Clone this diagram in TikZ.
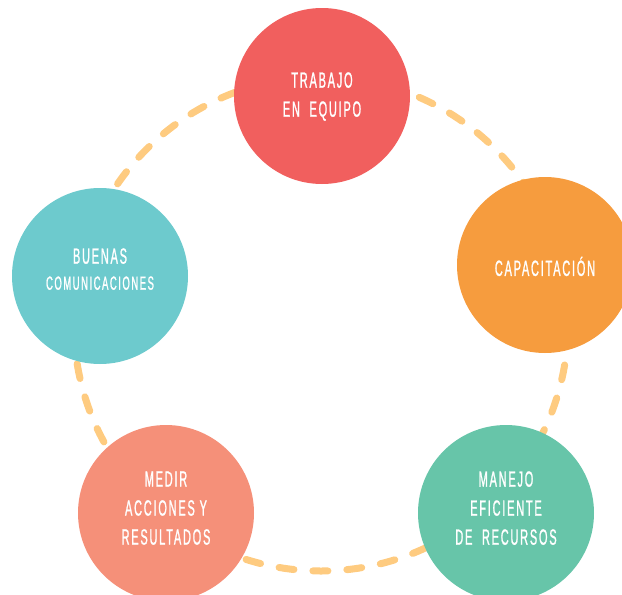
\documentclass[tikz,border=0pt]{standalone}
\usepackage{fontspec}
\setmainfont{Liberation Sans}[FakeStretch=0.5,LetterSpace=8,FakeBold=1]
\definecolor{ringc}{HTML}{FECB80}
\definecolor{redc}{HTML}{F15F5E}
\definecolor{orangec}{HTML}{F69C3E}
\definecolor{greenc}{HTML}{67C5A9}
\definecolor{salmonc}{HTML}{F59079}
\definecolor{tealc}{HTML}{6DCACD}
\begin{document}
\begin{tikzpicture}[
    x=1pt,
    y=-1pt,
    bubble/.style={circle, minimum size=176pt, inner sep=0pt, text=white,
      align=center, font=\fontsize{22}{29}\selectfont},
    lift/.style={text depth=#1},
    ring/.style={draw=ringc, line width=7pt, line cap=round,
      dash pattern=on 15pt off 19pt}
]
\useasboundingbox (0,0) rectangle (622,595);
\coordinate (mid) at (321,324);
\draw[ring] (mid) circle [radius=247pt];
\node[bubble, fill=redc, lift=3pt] (equipo) at (322,96) {TRABAJO\\EN\ \ EQUIPO};
\node[bubble, fill=orangec, text height=22pt] (capac) at (545,265) {CAPACITACIÓN};
\node[bubble, fill=greenc, lift=10pt] (manejo) at (506,513) {MANEJO\\EFICIENTE\\DE\ \ RECURSOS};
\node[bubble, fill=salmonc, lift=10pt] (medir) at (166,513) {MEDIR\\ACCIONES Y\\RESULTADOS};
\node[bubble, fill=tealc, lift=14pt] (buenas) at (100,276)
  {BUENAS\\[-3pt]{\fontsize{19}{26}\selectfont COMUNICACIONES}};
\end{tikzpicture}
\end{document}
